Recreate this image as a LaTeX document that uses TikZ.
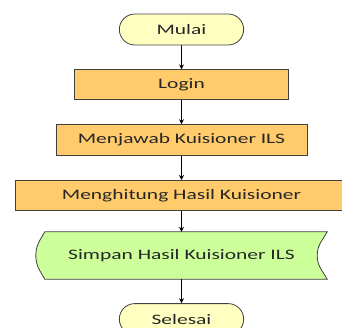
\documentclass[tikz,border=0pt]{standalone}
\usepackage{fontspec}
\setmainfont[FakeStretch=1.48]{Carlito}
\usepackage{tikz}
\usetikzlibrary{positioning, arrows.meta, shapes.misc, backgrounds}
\definecolor{termfill}{HTML}{FFFFC2}
\definecolor{procfill}{HTML}{FFCB6B}
\definecolor{datafill}{HTML}{CCFF99}
\definecolor{linegray}{HTML}{404040}
\tikzset{
node distance=24pt, % gap between two boxes
every node/.style={font=\fontsize{14.5}{16}\selectfont, text=black!85},
terminal/.style={rounded rectangle, draw=linegray, line width=0.8pt, fill=termfill, minimum width=131pt, minimum height=31pt},
process/.style={rectangle, draw=linegray, line width=0.8pt, fill=procfill, minimum height=30pt},
storedata/.style={rectangle, minimum width=291pt, minimum height=47pt}, % outline drawn below
flow/.style={-{Stealth[length=5pt,width=5pt]}, line width=0.8pt, black}, % the connectors
}
\begin{document}
\begin{tikzpicture}
\useasboundingbox (0,0) rectangle (342pt,-327pt);
\node[terminal] (mulai) at (181.5pt,-29.5pt) {Mulai};
\node[process, minimum width=214pt, below=of mulai] (login) {Login};
\node[process, minimum width=251pt, minimum height=31pt, below=of login] (menjawab) {Menjawab Kuisioner ILS};
\node[process, minimum width=333pt, below=of menjawab] (menghitung) {Menghitung Hasil Kuisioner};
\node[storedata, below=21pt of menghitung] (simpan) {Simpan Hasil Kuisioner ILS};
\node[terminal, below=of simpan] (selesai) {Selesai};
% stored data outline
\begin{scope}[on background layer]
\filldraw[draw=linegray, line width=0.8pt, fill=datafill]
  ([xshift=9pt]simpan.north west) -- (simpan.north east)
  to[out=-120, in=90] ([xshift=-10pt]simpan.east)
  to[out=-90, in=120] (simpan.south east)
  -- ([xshift=9pt]simpan.south west)
  to[out=120, in=-90] (simpan.west)
  to[out=90, in=-120] cycle;
\end{scope}
\draw[flow] (mulai) -- (login);
\draw[flow] (login) -- (menjawab);
\draw[flow] (menjawab) -- (menghitung);
\draw[flow] (menghitung) -- (simpan);
\draw[flow] (simpan) -- (selesai);
\end{tikzpicture}
\end{document}
